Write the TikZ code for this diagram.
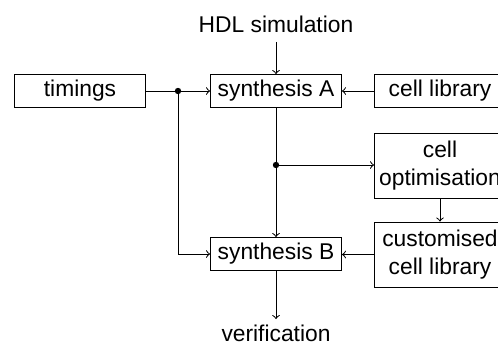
\documentclass[tikz,border=0pt]{standalone}
\usepackage{fontspec}
\setmainfont{Liberation Sans}
\usepackage{tikz}
\usetikzlibrary{arrows}

\tikzset{
    block/.style={draw, minimum width=65.5pt, minimum height=16.5pt, inner sep=0pt,
        align=center, font=\fontsize{11.4}{14}\selectfont},
    plain/.style={inner sep=0pt, font=\fontsize{11.4}{14}\selectfont},
    junction/.style={circle, fill, inner sep=0pt, minimum size=3.2pt}
}

\begin{document}
\begin{tikzpicture}[x=0.5pt, y=-0.5pt, >=to, line width=0.5pt]
    \useasboundingbox (0,0) rectangle (498,343);
    \clip (0,0) rectangle (498,343);

    \node[block] (timings) at (80,91) {timings};
    \node[block] (synA) at (276,91) {synthesis A};
    \node[block] (lib) at (440,91) {cell library};
    \node[block, minimum height=32.5pt] (opt) at (440,165.5) {cell\\optimisation};
    \node[block, minimum height=32.5pt] (custom) at (440,254.5) {customised\\cell library};
    \node[block] (synB) at (276,254) {synthesis B};
    \node[plain] (hdl) at (276,24) {HDL simulation};
    \node[plain] (verif) at (276,333) {verification};
    \node[junction] (t) at (178,91) {};
    \node[junction] (s) at (276,165) {};

    \draw[->] (hdl.south) ++(0,9) coordinate (h) -- (synA.north);
    \draw[->] (timings.east) -- (synA.west);
    \draw[->] (lib.west) -- (synA.west -| synA.east);
    \draw[->] (t.center) |- (synB.west);
    \draw[->] (synA.south) -- (synB.north);
    \draw[->] (s.center) -- (s -| opt.west);
    \draw[->] (opt.south) -- (custom.north);
    \draw[->] (custom.west) -- (custom.west -| synB.east);
    \draw[->] (synB.south) -- ++(0,48) coordinate (v);
\end{tikzpicture}
\end{document}
